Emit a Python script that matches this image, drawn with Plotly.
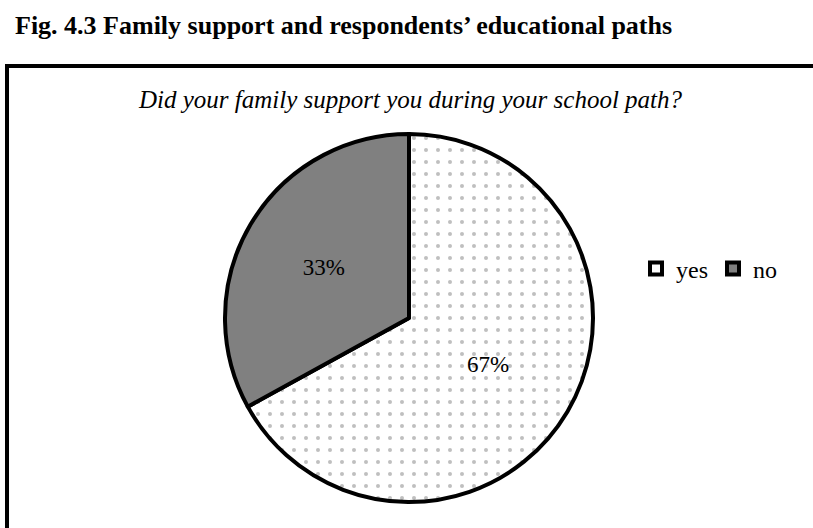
import plotly.graph_objects as go

W, H = 813, 528

categories = ["yes", "no"]
values = [67, 33]
fill_colors = ["white", "#808080"]
title_text = "Fig. 4.3 Family support and respondents’ educational paths"
subtitle_text = "Did your family support you during your school path?"

def px_x(v):
    return v / W

def px_y(v):
    return 1 - v / H

fig = go.Figure()
fig.add_trace(go.Pie(
    labels=categories,
    values=values,
    sort=False,
    direction="clockwise",
    rotation=0,
    marker=dict(
        colors=fill_colors,
        line=dict(color="black", width=4),
        pattern=dict(shape=[".", ""], fgcolor="#808080", bgcolor=["white", "#808080"],
                     size=12, solidity=0.09, fillmode="overlay"),
    ),
    textinfo="percent",
    texttemplate="%{percent:.0%}",
    textposition="inside",
    insidetextorientation="horizontal",
    textfont=dict(family="Liberation Serif", size=23, color="black"),
    domain=dict(x=[px_x(225), px_x(593)], y=[px_y(502), px_y(134)]),
    hoverinfo="label+percent",
))

fig.update_layout(
    width=W, height=H,
    margin=dict(l=0, r=0, t=0, b=0),
    paper_bgcolor="white",
    plot_bgcolor="white",
    font=dict(family="Liberation Serif", color="black"),
    showlegend=True,
    legend=dict(
        orientation="h",
        x=px_x(636), y=px_y(269), xanchor="left", yanchor="middle",
        font=dict(family="Liberation Serif", size=24, color="black"),
        itemwidth=30,
        tracegroupgap=0,
        bgcolor="rgba(0,0,0,0)",
    ),
    shapes=[
        dict(type="rect", xref="paper", yref="paper",
             x0=px_x(7), x1=px_x(830), y0=px_y(560), y1=px_y(66),
             line=dict(color="black", width=4), fillcolor="rgba(0,0,0,0)"),
    ],
    annotations=[
        dict(text="<b>" + title_text + "</b>", xref="paper", yref="paper",
             x=px_x(13), y=px_y(25), xanchor="left", yanchor="middle",
             showarrow=False, font=dict(family="Liberation Serif", size=26, color="black")),
        dict(text="<i>" + subtitle_text + "</i>", xref="paper", yref="paper",
             x=px_x(410), y=px_y(99), xanchor="center", yanchor="middle",
             showarrow=False, font=dict(family="Liberation Serif", size=25, color="black")),
    ],
)

fig.write_html("out.html")
